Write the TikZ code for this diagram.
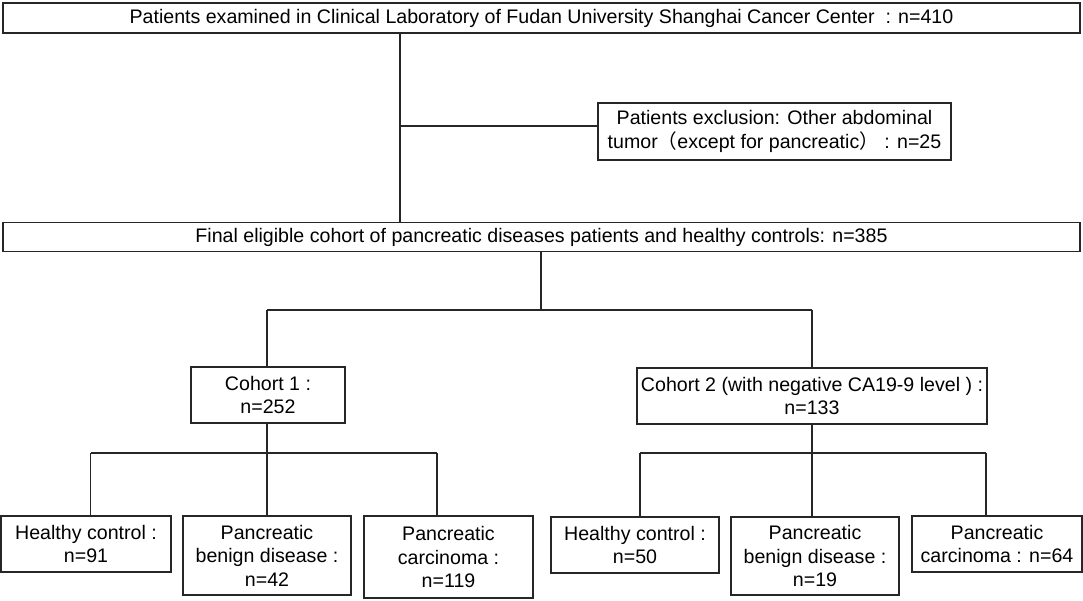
\documentclass[tikz,border=0pt]{standalone}
\usepackage{fontspec}
\setmainfont{Liberation Sans}
\newfontfamily\cjk{Noto Sans CJK SC}
\begin{document}
\begin{tikzpicture}[x=1pt,y=-1pt,
  box/.style={draw=black!85, line width=1.3pt, align=center, inner sep=0pt, font=\fontsize{19.6}{23.5}\selectfont},
  link/.style={draw=black!85, line width=1.3pt}]
\useasboundingbox (0,0) rectangle (1083,600);
\fill[white] (0,0) rectangle (1083,600);
% boxes
\node[box, minimum width=1077, minimum height=30] (top) at (541.5,18) {Patients examined in Clinical Laboratory of Fudan University Shanghai Cancer Center~~: n=410};
\node[box, minimum width=353, minimum height=57] (excl) at (774.5,131.5) {Patients exclusion: Other abdominal\\tumor{\cjk（}except for pancreatic{\cjk）}~: n=25};
\node[box, minimum width=1077, minimum height=29] (final) at (541.5,237) {Final eligible cohort of pancreatic diseases patients and healthy controls: n=385};
\node[box, minimum width=154, minimum height=56] (c1) at (268,395) {Cohort 1 :\\n=252};
\node[box, minimum width=350, minimum height=56] (c2) at (812,396) {Cohort 2 (with negative CA19-9 level ) :\\n=133};
\node[box, minimum width=170, minimum height=56] (h1) at (86,544) {Healthy control :\\n=91};
\node[box, minimum width=168, minimum height=79] (b1) at (267,555.5) {Pancreatic\\benign disease :\\n=42};
\node[box, minimum width=169, minimum height=82] (k1) at (448.5,557) {Pancreatic\\carcinoma :\\n=119};
\node[box, minimum width=168, minimum height=56] (h2) at (635,545) {Healthy control :\\n=50};
\node[box, minimum width=168, minimum height=78] (b2) at (815,556) {Pancreatic\\benign disease :\\n=19};
\node[box, minimum width=170, minimum height=56] (k2) at (997,544) {Pancreatic\\carcinoma : n=64};
% coordinates
\coordinate (t0) at (400,33);
\coordinate (tb) at (400,126);
\coordinate (f0) at (541,251.5);
\coordinate (f1) at (541,310);
\coordinate (bl) at (267,310);
\coordinate (br) at (812,310);
\coordinate (l0) at (267,453);
\coordinate (lL) at (90.5,453);
\coordinate (lR) at (437,453);
\coordinate (r0) at (812,453);
\coordinate (rL) at (640,453);
\coordinate (rR) at (986,453);
% connectors
\draw[link] (t0) -- (t0 |- final.north);
\draw[link] (tb) -- (tb -| excl.west);
\draw[link] (f0) -- (f1);
\draw[link] (bl) -- (br);
\draw[link] (bl) -- (bl |- c1.north);
\draw[link] (br) -- (br |- c2.north);
\draw[link] (l0 |- c1.south) -- (l0);
\draw[link] (lL) -- (lR);
\draw[link] (lL) -- (lL |- h1.north);
\draw[link] (l0) -- (l0 |- b1.north);
\draw[link] (lR) -- (lR |- k1.north);
\draw[link] (r0 |- c2.south) -- (r0);
\draw[link] (rL) -- (rR);
\draw[link] (rL) -- (rL |- h2.north);
\draw[link] (r0) -- (r0 |- b2.north);
\draw[link] (rR) -- (rR |- k2.north);
\end{tikzpicture}
\end{document}
